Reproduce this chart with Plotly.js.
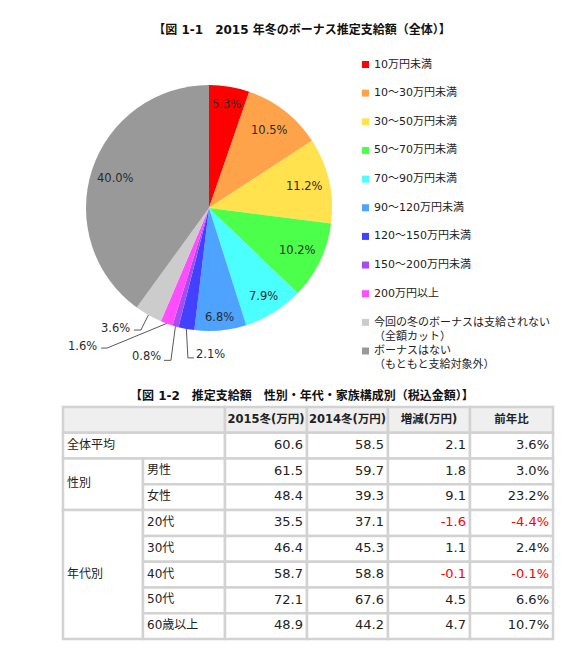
<!DOCTYPE html>
<html><head><meta charset="utf-8">
<script src="https://cdn.plot.ly/plotly-3.0.1.min.js"></script>
<style>html,body{margin:0;padding:0;background:#fff}</style>
</head><body><div id="chart" style="width:576px;height:648px"></div>
<script>
// ---------- data ----------
const pieLabels = ['10万円未満','10～30万円未満','30～50万円未満','50～70万円未満','70～90万円未満','90～120万円未満','120～150万円未満','150～200万円未満','200万円以上','今回の冬のボーナスは支給されない<br>（全額カット）','ボーナスはない<br>（もともと支給対象外）'];
const pieValues = [5.3,10.5,11.2,10.2,7.9,6.8,2.1,0.8,1.6,3.6,40.0];

const tableHeaders = ['2015冬(万円)','2014冬(万円)','増減(万円)','前年比'];
const rowGroups = ['全体平均','性別','年代別'];
const groupSizes = [1,2,5];
const rowLabels = ['全体平均','男性','女性','20代','30代','40代','50代','60歳以上'];
const winter2015 = [60.6,61.5,48.4,35.5,46.4,58.7,72.1,48.9];
const winter2014 = [58.5,59.7,39.3,37.1,45.3,58.8,67.6,44.2];
const changeMan = [2.1,1.8,9.1,-1.6,1.1,-0.1,4.5,4.7];
const changePct = [3.6,3.0,23.2,-4.4,2.4,-0.1,6.6,10.7];

// ---------- styles ----------
const pieColors = ['#FF0000','#FFA34A','#FFE24D','#4BFF4B','#4CFFFF','#4DA3FF','#4141FF','#A64CF2','#FF4DFF','#CCCCCC','#999999'];
const W = 576, H = 648;
const pieCx = 209, pieCy = 208, pieR = 123;
const labelRadius = [0.86,0.8,0.8,0.8,0.84,0.89,0,0,0,0,0.8];
// outside labels: [elbowDx, elbowDy, endDx, endDy, textDx, textDy] relative to arc point
const outsideLabels = {
  6: [1.6,29, 7.6,29, 24.6,25],
  7: [-4.5,34, -11.5,34, -28.5,30],
  8: [-59.5,24.6, -65.5,24.6, -84.5,22.6],
  9: [-7.5,15, -14.5,15, -32.5,13]
};
const colEdges = [0,80,162,244,325,407,490];
const tableTopPx = 407, tableBottomPx = 639, tableLeftPx = 63;
const NUM = '"DejaVu Sans", "Noto Sans CJK JP", sans-serif';
const textDark = '#222222';
const px = x => x / W, py = y => 1 - y / H;

// ---------- pie ----------
const pie = {
  type:'pie', labels:pieLabels, values:pieValues, sort:false, direction:'clockwise', rotation:0,
  marker:{colors:pieColors, line:{width:0}}, textinfo:'none', hoverinfo:'label+percent', showlegend:false,
  domain:{x:[px(pieCx-pieR), px(pieCx+pieR)], y:[py(pieCy+pieR), py(pieCy-pieR)]}
};

const annotations = [];
const shapes = [];
const total = pieValues.reduce((a,b)=>a+b,0);
let cum = 0;
pieValues.forEach((v,i)=>{
  const th = (cum + v/2) / total * 2 * Math.PI;
  cum += v;
  const sx = Math.sin(th), cy = Math.cos(th);
  const txt = v.toFixed(1) + '%';
  if (outsideLabels[i]) {
    const o = outsideLabels[i];
    const ex = pieCx + pieR*sx, ey = pieCy - pieR*cy;
    shapes.push({type:'path', xref:'paper', yref:'paper',
      path:`M${px(ex)},${py(ey)} L${px(ex+o[0])},${py(ey+o[1])} L${px(ex+o[2])},${py(ey+o[3])}`,
      line:{color:'#595959', width:1}});
    annotations.push({xref:'paper', yref:'paper', x:px(ex+o[4]), y:py(ey+o[5]), text:txt, showarrow:false,
      xanchor:'center', yanchor:'middle', font:{family:NUM, size:11.5, color:'#2b2b2b'}});
  } else {
    const k = labelRadius[i]*pieR;
    annotations.push({xref:'paper', yref:'paper', x:px(pieCx + k*sx), y:py(pieCy - k*cy), text:txt, showarrow:false,
      xanchor:'center', yanchor:'middle', font:{family:NUM, size:11.5, color:'#2b2b2b'}});
  }
});

// ---------- manual legend ----------
const legX = 362, legY0 = 64.5, legStep = 28.65, legSq = 7;
pieLabels.forEach((lab,i)=>{
  const yc = legY0 + i*legStep;
  shapes.push({type:'rect', xref:'paper', yref:'paper', x0:px(legX), x1:px(legX+legSq), y0:py(yc+legSq/2), y1:py(yc-legSq/2),
    fillcolor:pieColors[i], line:{width:0}});
  annotations.push({xref:'paper', yref:'paper', x:px(legX+legSq+4), y:py(yc-8), text:lab, showarrow:false,
    xanchor:'left', yanchor:'top', align:'left', borderpad:0, font:{family:NUM, size:11, color:'#222'}});
});

// ---------- titles ----------
annotations.push({xref:'paper', yref:'paper', x:px(302), y:py(395), text:'<b>【図 1-2　推定支給額　性別・年代・家族構成別（税込金額）】</b>',
  showarrow:false, xanchor:'center', yanchor:'middle', font:{family:NUM, size:12, color:'#111'}});

// ---------- table ----------
const cellLine = {color:'#d2d2d2', width:2.5};
function cell(x0,x1,y0,y1,fill){
  shapes.push({type:'rect', xref:'x', yref:'y', x0, x1, y0, y1, fillcolor:fill, line:cellLine, layer:'below'});
}
const E = colEdges;
cell(E[0],E[2],0,1,'#efefef');
for (let c=0;c<4;c++) cell(E[c+2],E[c+3],0,1,'#efefef');

const lblX=[], lblY=[], lblT=[];
let r = 0;
rowGroups.forEach((g,gi)=>{
  const n = groupSizes[gi];
  if (n===1 && rowLabels[r]===g) {
    cell(E[0],E[2],r+1,r+2,'#ffffff');
    lblX.push(E[0]+4); lblY.push(r+1.5); lblT.push(g);
  } else {
    cell(E[0],E[1],r+1,r+1+n,'#ffffff');
    lblX.push(E[0]+4); lblY.push(r+1+n/2); lblT.push(g);
    for (let k=0;k<n;k++){
      cell(E[1],E[2],r+1+k,r+2+k,'#ffffff');
      lblX.push(E[1]+4); lblY.push(r+1.5+k); lblT.push(rowLabels[r+k]);
    }
  }
  for (let k=0;k<n;k++) for (let c=0;c<4;c++) cell(E[c+2],E[c+3],r+1+k,r+2+k,'#ffffff');
  r += n;
});

const traces = [pie];
traces.push({type:'scatter', mode:'text', x:lblX, y:lblY, text:lblT, textposition:'middle right',
  textfont:{family:NUM, size:12, color:textDark}, hoverinfo:'skip', showlegend:false, cliponaxis:false});
traces.push({type:'scatter', mode:'text', x:tableHeaders.map((h,c)=>(E[c+2]+E[c+3])/2), y:tableHeaders.map(()=>0.5),
  text:tableHeaders.map(h=>'<b>'+h+'</b>'), textposition:'middle center',
  textfont:{family:NUM, size:11.5, color:textDark}, hoverinfo:'skip', showlegend:false, cliponaxis:false});
const cols = [
  {vals:winter2015, fmt:v=>v.toFixed(1), neg:false},
  {vals:winter2014, fmt:v=>v.toFixed(1), neg:false},
  {vals:changeMan, fmt:v=>v.toFixed(1), neg:true},
  {vals:changePct, fmt:v=>v.toFixed(1)+'%', neg:true}
];
cols.forEach((col,c)=>{
  traces.push({type:'scatter', mode:'text', x:col.vals.map(()=>E[c+3]-4), y:col.vals.map((v,i)=>i+1.5),
    text:col.vals.map(col.fmt), textposition:'middle left',
    textfont:{family:NUM, size:13, color:col.vals.map(v=>(col.neg && v<0)?'#FF0000':textDark)},
    hoverinfo:'skip', showlegend:false, cliponaxis:false});
});

const padX = 2, rowPx = (tableBottomPx - tableTopPx)/9, padY = 0.1;
const layout = {
  width:W, height:H, margin:{l:0,r:0,t:0,b:0}, paper_bgcolor:'#fff', plot_bgcolor:'rgba(0,0,0,0)',
  showlegend:false,
  title:{text:'<b>【図 1-1　2015 年冬のボーナス推定支給額（全体）】</b>', x:px(302), xanchor:'center', y:py(30), yanchor:'middle',
    font:{family:NUM, size:12, color:'#111'}},
  xaxis:{range:[-padX, E[6]+padX], domain:[px(tableLeftPx-padX), px(tableLeftPx+E[6]+padX)], visible:false, fixedrange:true},
  yaxis:{range:[9+padY, -padY], domain:[py(tableBottomPx+padY*rowPx), py(tableTopPx-padY*rowPx)], visible:false, fixedrange:true},
  shapes, annotations
};
Plotly.newPlot('chart', traces, layout, {displayModeBar:false, staticPlot:true});
</script></body></html>
